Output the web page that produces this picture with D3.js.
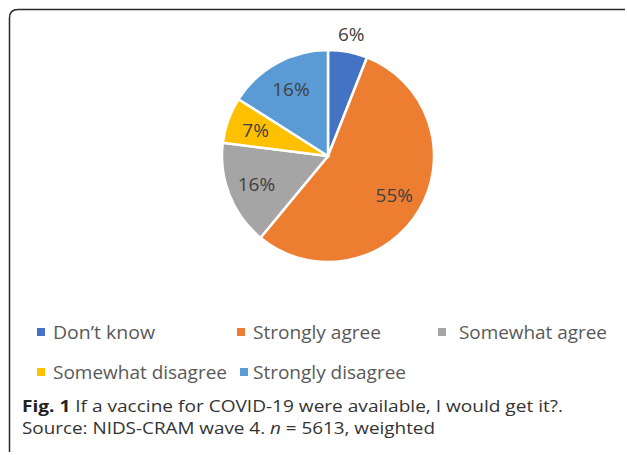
<!DOCTYPE html>
<html>
<head>
<meta charset="utf-8">
<script src="https://cdn.jsdelivr.net/npm/d3@7"></script>
<style>
  html, body { margin: 0; padding: 0; background: #fff; }
  svg { display: block; }
</style>
</head>
<body>
<svg id="chart" width="627" height="455"></svg>
<script>
// Survey responses: "If a vaccine for COVID-19 were available, I would get it?"
const categories = ["Don\u2019t know", "Strongly agree", "Somewhat agree", "Somewhat disagree", "Strongly disagree"];
const shares = [6, 55, 16, 7, 16];
const sliceColors = ["#4472C4", "#ED7D31", "#A5A5A5", "#FFC000", "#5B9BD5"];
const captionTitle = "Fig. 1";
const captionText = " If a vaccine for COVID-19 were available, I would get it?.";
const sourceParts = ["Source: NIDS-CRAM wave 4. ", "n", " = 5613, weighted"];

const svg = d3.select("#chart");

// Frame: top and left edges with a rounded corner
svg.append("path")
  .attr("d", "M9.5,452 L9.5,18 Q9.5,9.5 18,9.5 L625,9.5")
  .attr("fill", "none")
  .attr("stroke", "#2b2b2b")
  .attr("stroke-width", 1.5);

// Pie
const cx = 328, cy = 156, R = 106;
const data = categories.map((c, i) => ({ name: c, value: shares[i], color: sliceColors[i] }));
const pie = d3.pie().value(d => d.value).sort(null);
const arcs = pie(data);
const arc = d3.arc().innerRadius(0).outerRadius(R);

const g = svg.append("g").attr("transform", `translate(${cx},${cy})`);
g.selectAll("path.slice")
  .data(arcs)
  .join("path")
  .attr("class", "slice")
  .attr("d", arc)
  .attr("fill", d => d.data.color)
  .attr("stroke", "#fff")
  .attr("stroke-width", 2.5)
  .attr("stroke-linejoin", "miter");

// Data labels: inside at ~0.73R, the thin first slice gets its label outside
const labelR = i => (i === 0 ? 124 : 77);
g.selectAll("text.lbl")
  .data(arcs)
  .join("text")
  .attr("class", "lbl")
  .attr("x", (d, i) => Math.sin((d.startAngle + d.endAngle) / 2) * labelR(i))
  .attr("y", (d, i) => -Math.cos((d.startAngle + d.endAngle) / 2) * labelR(i))
  .attr("text-anchor", "middle")
  .attr("dominant-baseline", "central")
  .attr("font-family", "Open Sans, sans-serif")
  .attr("font-size", 19)
  .attr("fill", "#404040")
  .text(d => d.data.value + "%");

// Legend: marker position, text offset and text run width for each entry
const legendPos = [
  { x: 37, y: 332, dx: 16, w: 102 }, { x: 237, y: 332, dx: 16, w: 128 }, { x: 438, y: 332, dx: 21, w: 148 },
  { x: 37, y: 372, dx: 16, w: 174 }, { x: 240, y: 372, dx: 13, w: 153 }
];
const lg = svg.append("g");
const items = lg.selectAll("g.item")
  .data(data)
  .join("g")
  .attr("class", "item")
  .attr("transform", (d, i) => `translate(${legendPos[i].x},${legendPos[i].y})`);
items.append("rect")
  .attr("x", 0).attr("y", -4)
  .attr("width", 8).attr("height", 8)
  .attr("fill", d => d.color);
items.append("text")
  .attr("x", (d, i) => legendPos[i].dx)
  .attr("y", 0)
  .attr("dominant-baseline", "central")
  .attr("font-family", "Open Sans, sans-serif")
  .attr("font-size", 19)
  .attr("fill", "#595959")
  .attr("textLength", (d, i) => legendPos[i].w)
  .attr("lengthAdjust", "spacingAndGlyphs")
  .text(d => d.name);

// Caption
const cap = svg.append("text")
  .attr("x", 22).attr("y", 412)
  .attr("font-family", "Open Sans, sans-serif")
  .attr("font-size", 16)
  .attr("fill", "#333")
  .attr("textLength", 541)
  .attr("lengthAdjust", "spacingAndGlyphs");
cap.append("tspan").attr("font-weight", "bold").attr("fill", "#222").text(captionTitle);
cap.append("tspan").text(captionText);

const src = svg.append("text")
  .attr("x", 22).attr("y", 434)
  .attr("font-family", "Open Sans, sans-serif")
  .attr("font-size", 16)
  .attr("fill", "#333")
  .attr("textLength", 413)
  .attr("lengthAdjust", "spacingAndGlyphs");
src.append("tspan").text(sourceParts[0]);
src.append("tspan").attr("font-style", "italic").text(sourceParts[1]);
src.append("tspan").text(sourceParts[2]);
</script>
</body>
</html>
